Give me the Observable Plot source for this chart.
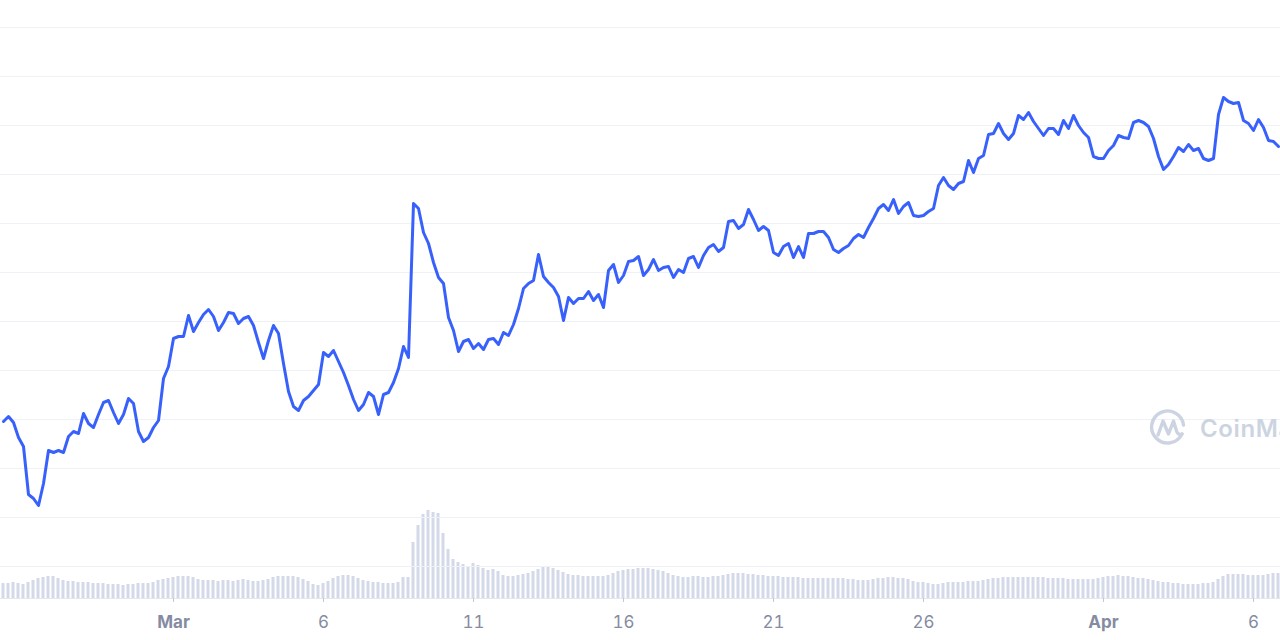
<!DOCTYPE html>
<html>
<head>
<meta charset="utf-8">
<script src="https://cdn.jsdelivr.net/npm/d3@7"></script>
<script src="https://cdn.jsdelivr.net/npm/@observablehq/plot@0.6"></script>
<style>
  html, body { margin: 0; padding: 0; background: #fff; }
  #chart { position: relative; width: 1280px; height: 640px; overflow: hidden; font-family: Inter, "Noto Sans", sans-serif; }
  #chart svg.layer { position: absolute; left: 0; top: 0; }
  #wm { position: absolute; left: 1149px; top: 409px; display: flex; align-items: center; gap: 13px; color: #cdd4e1; font: 600 24px Inter, sans-serif; letter-spacing: 0.6px; white-space: nowrap; }
</style>
</head>
<body>
<div id="chart"></div>
<script>
// price readings, one every 4 hours from 23 Feb 08:00 UTC (arbitrary units)
const price = [
194,199,193,178,169,121,117,110,132,165,
163,165,163,179,184,182,202,192,188,201,
213,215,203,192,201,217,212,184,174,178,
188,195,237,249,277,279,279,300,284,293,
301,306,299,285,293,303,302,292,297,299,
290,273,257,275,290,282,252,224,209,205,
215,219,225,231,263,259,265,254,243,230,
216,205,211,223,219,201,221,223,233,247,
269,258,412,407,383,372,353,338,332,298,
285,264,274,276,267,272,266,276,277,271,
283,280,291,307,327,332,335,361,339,333,
328,319,295,318,312,317,317,324,315,321,
308,345,351,333,340,354,355,359,340,346,
356,345,348,349,338,346,343,357,359,348,
360,368,371,364,368,394,395,387,391,406,
396,385,389,385,363,360,369,372,358,369,
358,382,382,384,384,378,366,363,367,370,
377,381,378,388,397,407,411,405,416,402,
409,413,400,399,400,404,407,430,438,430,
426,432,434,455,443,457,460,481,482,492,
482,476,482,500,496,503,494,487,480,487,
487,481,495,487,500,490,483,478,459,457,
457,465,470,480,478,477,493,495,493,489,
477,459,446,451,459,468,464,471,465,467,
457,455,457,501,518,514,512,513,495,492,
485,496,488,475,474,469
];

// volume readings, same 4-hour steps (arbitrary units)
const volume = [
15,15,16,15,14,16,18,20,21,22,22,20,18,17,17,16,16,16,15,15,15,14,14,14,13,14,14,15,15,15,16,
18,19,20,21,22,22,22,21,19,18,
18,18,17,18,18,17,18,19,18,17,
17,18,19,21,22,22,22,22,21,19,
17,14,13,15,17,20,22,23,23,22,
20,18,17,16,16,15,15,15,16,21,
21,56,73,84,88,86,85,65,49,39,
36,34,31,35,33,30,28,29,27,23,
22,22,23,
24,25,27,29,31,31,30,28,26,24,
23,23,22,22,22,22,22,23,25,27,
28,29,29,30,30,30,29,28,27,25,
23,22,21,21,22,22,21,21,22,22,
23,24,25,25,25,24,24,23,23,22,
22,22,21,21,21,21,20,20,20,20,
20,20,20,20,20,19,19,18,18,18,
19,20,
20,21,21,20,20,19,17,16,16,15,
14,14,15,16,16,16,16,17,17,17,
18,19,20,20,21,21,21,21,21,21,
21,21,21,20,20,20,20,19,19,19,
19,19,19,20,21,22,22,23,22,22,
21,20,20,19,18,17,16,16,15,15,
14,14,14,14,15,15,16,19,22,24,
24,24,24,23,23,23,23,24,25,25
];

const tickDates = ["2022-03-01","2022-03-06","2022-03-11","2022-03-16","2022-03-21","2022-03-26","2022-04-01","2022-04-06"];
const tickLabels = ["Mar","6","11","16","21","26","Apr","6"];
const monthTickIndex = [0, 6];
const gridValues = [49,98,147,196,245,294,343,392,441,490,539,588];

const startTime = Date.UTC(2022, 1, 23, 8);
const stepHours = 4;
const data = price.map((p, i) => ({
  date: new Date(startTime + i * stepHours * 3600e3),
  price: p,
  volume: volume[i]
}));

const xDomain = [new Date(Date.UTC(2022, 1, 23, 5, 36)), new Date(Date.UTC(2022, 3, 6, 21, 36))];
const ticks = tickDates.map(s => new Date(s + "T00:00:00Z"));
const labelOf = d => tickLabels[ticks.findIndex(t => +t === +d)];
const monthTicks = ticks.filter((t, i) => monthTickIndex.includes(i));
const dayTicks = ticks.filter((t, i) => !monthTickIndex.includes(i));

const W = 1280, H = 640, MB = 42;
const common = {width: W, height: H, marginTop: 0, marginBottom: MB, marginLeft: 0, marginRight: 0};

const volPlot = Plot.plot({
  ...common,
  style: {background: "transparent"},
  x: {type: "utc", domain: xDomain, axis: null},
  y: {domain: [0, 598], axis: null},
  marks: [
    Plot.rect(data, {
      x1: d => d3.utcHour.offset(d.date, -stepHours / 2),
      x2: d => d3.utcHour.offset(d.date, stepHours / 2),
      y1: 0, y2: "volume",
      fill: "#d3d9e8", insetLeft: 1, insetRight: 1
    })
  ]
});

const axisStyle = {tickSize: 4, tickPadding: 13, fontSize: 17, fill: "#858ca2", stroke: "#c3c8d3", tickFormat: labelOf, label: null};

const mainPlot = Plot.plot({
  ...common,
  style: {background: "transparent", fontFamily: "Inter, sans-serif"},
  x: {type: "utc", domain: xDomain, label: null},
  y: {domain: [17, 615], axis: null},
  marks: [
    Plot.ruleY(gridValues, {stroke: "#eef1f5", strokeWidth: 1.2}),
    Plot.ruleY([17], {stroke: "#e4e7ed"}),
    Plot.line(data, {x: "date", y: "price", stroke: "#3861fb", strokeWidth: 3, strokeLinejoin: "round", strokeLinecap: "round"}),
    Plot.axisX(monthTicks, {...axisStyle, fontWeight: "bold"}),
    Plot.axisX(dayTicks, {...axisStyle, fontWeight: "normal"})
  ]
});

volPlot.classList.add("layer");
mainPlot.classList.add("layer");
const chart = document.getElementById("chart");
chart.appendChild(volPlot);
chart.appendChild(mainPlot);

const wm = document.createElement("div");
wm.id = "wm";
wm.innerHTML = `<svg width="38" height="38" viewBox="0 0 38 38" fill="none" stroke="#cdd4e1" stroke-width="3.4" stroke-linecap="round" stroke-linejoin="round">
  <path d="M33 25 A16 16 0 1 1 34.5 16"/>
  <path d="M9 26 L14 12 L19.5 25 L24.5 12 L27.5 22 Q29 26.5 33 25"/>
</svg><span>CoinMarketCap</span>`;
chart.appendChild(wm);
</script>
</body>
</html>
